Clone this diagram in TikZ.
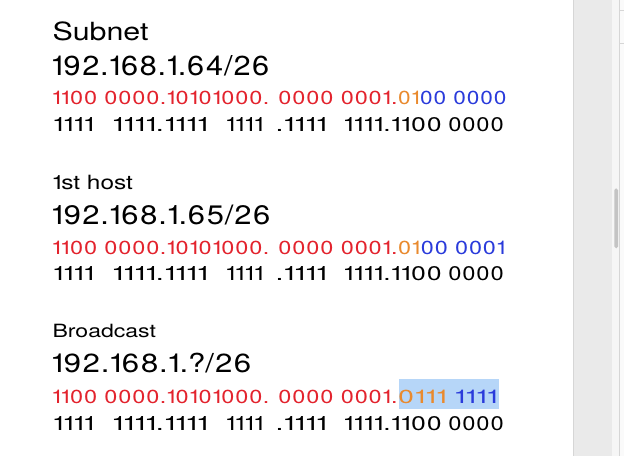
\documentclass[tikz,border=0pt]{standalone}
\usepackage{fontspec}
\usepackage{graphicx}
\setmainfont{TeX Gyre Heros}[Numbers=Proportional]
\definecolor{bred}{HTML}{E3232D}
\definecolor{borange}{HTML}{E98A2E}
\definecolor{bblue}{HTML}{2A3BDB}
\definecolor{hlblue}{HTML}{B6D6F8}
\definecolor{panelgray}{HTML}{EAEAEA}
\definecolor{panelline}{HTML}{D6D6D6}
\definecolor{stripgray}{HTML}{F6F6F6}
\definecolor{thumbgray}{HTML}{C4C4C4}
\newcommand{\fitln}[3]{\resizebox{#1pt}{#2pt}{#3}}
\newcommand{\mseg}[3]{\makebox[0pt][l]{\hspace*{#1pt}\fitln{#2}{14}{#3}}}
\newcommand{\maskline}{%
  \mseg{0}{41.1}{1111}%
  \mseg{59.3}{95.8}{1111.1111}%
  \mseg{172.7}{37.7}{1111}%
  \mseg{222.7}{51.2}{.1111}%
  \mseg{290.5}{98.9}{1111.1100}%
  \mseg{395}{56.4}{0000}%
  \hspace*{451.4pt}}
\newcommand{\redpart}{\fitln{345.7}{13.4}{\color{bred}1100 0000.10101000. 0000 0001.}}
\begin{document}
\begin{tikzpicture}[x=1pt,y=-1pt,
  txt/.style={anchor=base west, inner sep=0pt, outer sep=0pt}]
\useasboundingbox (0,0) rectangle (624,456);
\fill[white] (0,0) rectangle (624,456);
% right panel
\fill[panelgray] (573,0) rectangle (612,456);
\fill[stripgray] (612,0) rectangle (619.5,456);
\fill[white!98!black] (620,0) rectangle (624,456);
\draw[panelline, line width=1pt] (573.3,0) -- (573.3,456);
\draw[panelline, line width=0.8pt] (619.8,0) -- (619.8,456);
\draw[panelline, line width=0.8pt] (620,10) -- (624,10);
\draw[panelline, line width=0.8pt] (620,43) -- (624,43);
\fill[thumbgray, rounded corners=1.8pt] (614.3,188.3) rectangle (618,248.3);
% highlight
\fill[hlblue] (399,378.7) rectangle (499,408.5);
% section 1
\node[txt] (s1title) at (52.5,40.3) {\fitln{96}{18.7}{Subnet}};
\node[txt] (s1ip) at (51,75) {\fitln{219}{20}{192.168.1.64/26}};
\node[txt] (s1bin) at (51.8,104.3) {\redpart\fitln{109.2}{13.4}{\textcolor{borange}{01}\textcolor{bblue}{00 0000}}};
\node[txt] (s1mask) at (52.8,131) {\maskline};
% section 2
\node[txt] (s2title) at (52,189.3) {\fitln{81}{14.3}{1st host}};
\node[txt] (s2ip) at (51,224.3) {\fitln{220}{19.5}{192.168.1.65/26}};
\node[txt] (s2bin) at (51.8,254) {\redpart\fitln{107.7}{13.4}{\textcolor{borange}{01}\textcolor{bblue}{00 0001}}};
\node[txt] (s2mask) at (52.8,280.8) {\maskline};
% section 3
\node[txt] (s3title) at (52.5,337.3) {\fitln{103.5}{13.3}{Broadcast}};
\node[txt] (s3ip) at (51,372.7) {\fitln{201}{19.4}{192.168.1.?/26}};
\node[txt] (s3bin) at (51.8,403.5) {\redpart\fitln{99.7}{13.4}{\textcolor{borange}{0111}\ \textcolor{bblue}{1111}}};
\node[txt] (s3mask) at (52.8,430.7) {\maskline};
\end{tikzpicture}
\end{document}
